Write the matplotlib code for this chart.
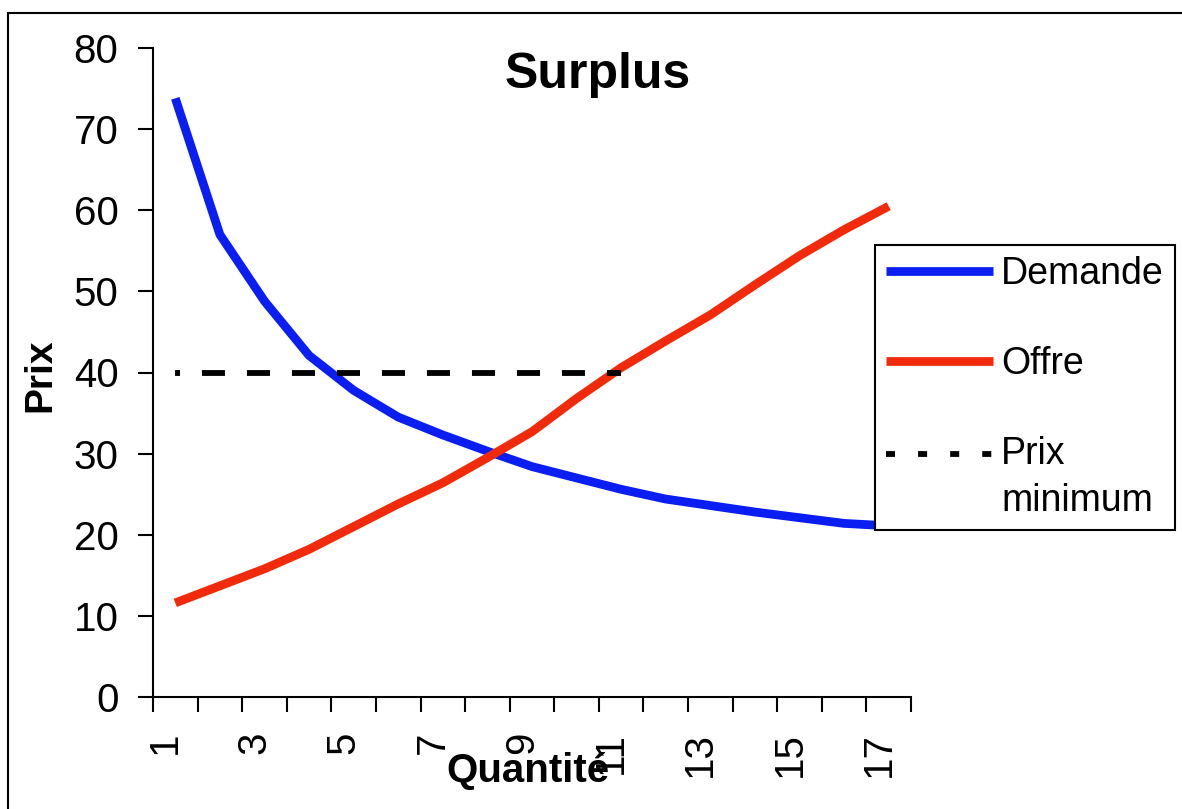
import numpy as np
import matplotlib
matplotlib.use('Agg')
import matplotlib.pyplot as plt
from matplotlib.legend_handler import HandlerLine2D
from matplotlib.patches import Rectangle
from matplotlib.transforms import ScaledTranslation

plt.rcParams['font.family'] = ['Liberation Sans', 'DejaVu Sans']
plt.rcParams['lines.scale_dashes'] = False

# ---------------- data ----------------
categories = list(range(1, 18))
tick_labels = ['1', '3', '5', '7', '9', '11', '13', '15', '17']
demande = [73.8, 57.0, 48.8, 42.1, 37.8, 34.5, 32.3, 30.3, 28.4, 27.0,
           25.6, 24.4, 23.6, 22.8, 22.1, 21.4, 21.1]
offre = [11.6, 13.7, 15.8, 18.2, 21.0, 23.8, 26.4, 29.5, 32.7, 36.8,
         40.6, 43.9, 47.1, 50.8, 54.4, 57.6, 60.5]
prix_minimum = [40, 40, 40, 40, 40, 40, 40, 40, 40, 40, 40,
                np.nan, np.nan, np.nan, np.nan, np.nan, np.nan]
series_names = ['Demande', 'Offre', 'Prix\nminimum']
title = 'Surplus'
xlabel = 'Quantité'
ylabel = 'Prix'
y_ticks = [0, 10, 20, 30, 40, 50, 60, 70, 80]

# ---------------- layout helpers ----------------
W, H = 1182, 809
fig = plt.figure(figsize=(W / 100, H / 100), dpi=100)
fig.patch.set_facecolor('white')


def fx(px):
    return px / W


def fy(py):
    return 1 - py / H


BLUE = '#0A1EF2'
RED = '#F02A0A'

ax = fig.add_axes([fx(153), fy(697), fx(911) - fx(153), fy(48) - fy(697)])

l1, = ax.plot(categories, demande, color=BLUE, lw=6.3,
              solid_capstyle='butt', solid_joinstyle='round')
l2, = ax.plot(categories, offre, color=RED, lw=6.3,
              solid_capstyle='butt', solid_joinstyle='round')
l3, = ax.plot(categories, prix_minimum, color='black', lw=4.2,
              linestyle=(13, (16.6, 15.8)), dash_capstyle='butt')

ax.set_xlim(categories[0] - 0.5, categories[-1] + 0.5)
ax.set_ylim(y_ticks[0], y_ticks[-1])

# category boundaries as major ticks, labels on odd categories (minor)
bounds = [c - 0.5 for c in categories] + [categories[-1] + 0.5]
ax.set_xticks(bounds)
ax.set_xticks(categories[::2], labels=tick_labels, minor=True)
ax.set_yticks(y_ticks)

ax.tick_params(axis='x', which='major', length=10.8, width=1.5,
               direction='out', labelbottom=False, color='black')
ax.tick_params(axis='x', which='minor', length=0, pad=25, labelsize=29,
               labelrotation=90)
ax.tick_params(axis='y', which='major', length=10.8, width=1.5,
               direction='out', pad=14, labelsize=29, color='black')

off = ScaledTranslation(-0.10, 0, fig.dpi_scale_trans)
for lab in ax.get_xticklabels(minor=True):
    lab.set_transform(lab.get_transform() + off)

for s in ['top', 'right']:
    ax.spines[s].set_visible(False)
for s in ['left', 'bottom']:
    ax.spines[s].set_linewidth(1.5)
    ax.spines[s].set_color('black')


# ---------------- legend ----------------
class FirstLineHandler(HandlerLine2D):
    def __init__(self, yshift, dashes, **kw):
        super().__init__(**kw)
        self.yshift = yshift
        self.dashes = dashes

    def create_artists(self, legend, orig_handle, xdescent, ydescent,
                       width, height, fontsize, trans):
        artists = super().create_artists(legend, orig_handle, xdescent,
                                         ydescent, width, height,
                                         fontsize, trans)
        for a in artists:
            a.set_ydata(np.asarray(a.get_ydata(), float) + self.yshift)
            a.set_linestyle((0, self.dashes))
        return artists


leg_fs = 27
em_px = leg_fs / 72 * 100
leg = fig.legend([l1, l2, l3], series_names, loc='upper left',
                 bbox_to_anchor=(fx(875), fy(245)),
                 bbox_transform=fig.transFigure,
                 frameon=True, fancybox=False, shadow=False,
                 edgecolor='black', framealpha=1, borderaxespad=0,
                 fontsize=leg_fs, handlelength=107 / em_px,
                 handletextpad=8 / em_px, labelspacing=1.44,
                 borderpad=0.3,
                 handler_map={l3: FirstLineHandler(18.0, (6.5, 16.6))})
leg.get_frame().set_linewidth(1.5)
for t in leg.get_texts():
    t.set_linespacing(1.39)

# ---------------- texts ----------------
fig.text(fx(598), fy(88), title, fontsize=36, fontweight='bold',
         ha='center', va='baseline')
fig.text(fx(528), fy(782), xlabel, fontsize=29, fontweight='bold',
         ha='center', va='baseline', zorder=5)
fig.text(fx(50), fy(375), ylabel, fontsize=28, fontweight='bold',
         rotation=90, rotation_mode='anchor', ha='center', va='baseline')

# outer chart-area border (top and left visible)
fig.add_artist(Rectangle((fx(8), -0.1), 1.2, fy(13) + 0.1,
                         transform=fig.transFigure, fill=False,
                         edgecolor='black', lw=1.5, clip_on=False))

fig.savefig('out.png', dpi=100, facecolor='white')
